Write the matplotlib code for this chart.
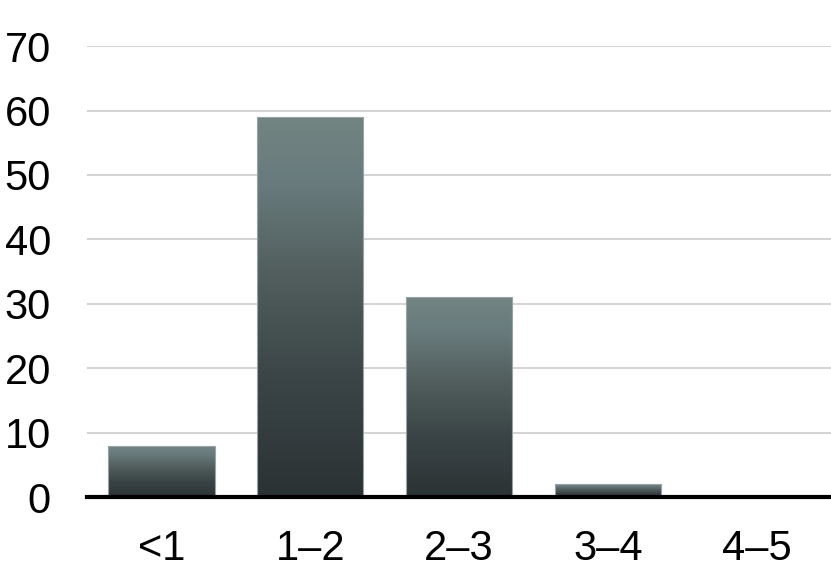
import numpy as np
import matplotlib
matplotlib.use("Agg")
import matplotlib.pyplot as plt
from matplotlib.colors import LinearSegmentedColormap

# bins and counts
categories = ["<1", "1\u20132", "2\u20133", "3\u20134", "4\u20135"]
counts = [8, 59, 31, 2, 0]
y_ticks = [0, 10, 20, 30, 40, 50, 60, 70]

plt.rcParams['font.family'] = ['Liberation Sans', 'DejaVu Sans']

fig = plt.figure(figsize=(8.31, 5.76), dpi=100)
ax = fig.add_axes([0.1047, 0.137, 0.8953, 0.783])

# gradient, bottom dark -> top grey-green
grad = LinearSegmentedColormap.from_list(
    "bar", [(0.0, "#2b3234"), (0.3, "#3a4446"), (0.6, "#53605f"),
            (0.82, "#687a7c"), (1.0, "#728581")])

x = np.arange(len(categories))
bars = ax.bar(x, counts, width=0.715, color="none", edgecolor="#9aa3a3",
              linewidth=0.8, zorder=3)
g = np.linspace(0, 1, 256).reshape(-1, 1)
for b in bars:
    h = b.get_height()
    if h <= 0:
        continue
    x0 = b.get_x()
    im = ax.imshow(g, cmap=grad, origin="lower", aspect="auto",
                   extent=[x0, x0 + b.get_width(), 0, h], zorder=2)
    im.set_clip_path(b)

ax.set_xlim(-0.5, len(categories) - 0.5)
ax.set_ylim(0, 70)
ax.set_yticks(y_ticks)
ax.set_xticks(x)
ax.set_xticklabels(categories)

ax.grid(axis="y", color="#cccccc", linewidth=1.2, zorder=0)
ax.set_axisbelow(True)
for s in ["left", "right", "top"]:
    ax.spines[s].set_visible(False)
ax.spines["bottom"].set_linewidth(3)
ax.spines["bottom"].set_color("black")
ax.spines["bottom"].set_zorder(5)

ax.tick_params(axis="both", length=0, labelsize=30)
ax.tick_params(axis="y", pad=26)
ax.tick_params(axis="x", pad=23)

fig.savefig("out.png", dpi=100)
